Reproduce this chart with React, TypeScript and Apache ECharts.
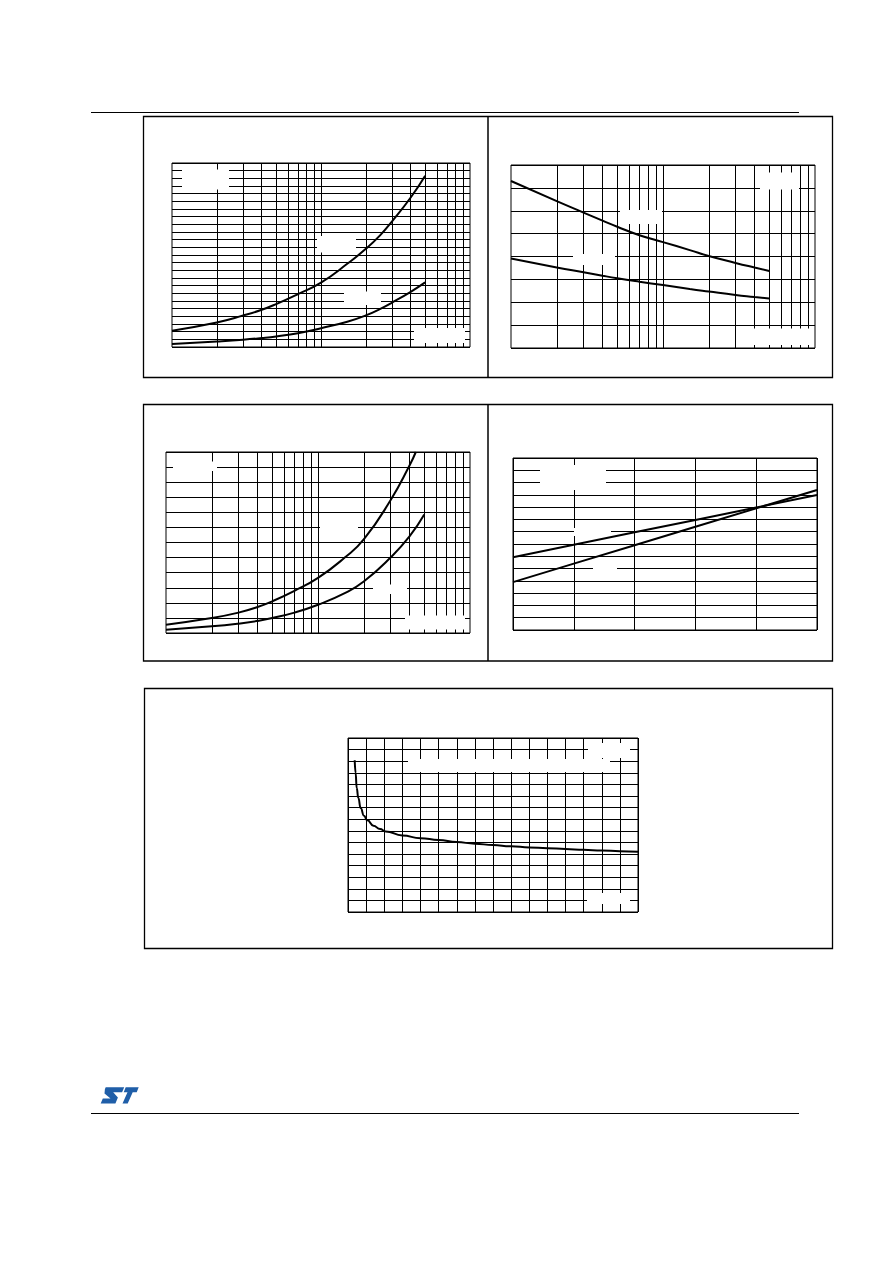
import React, { useEffect, useRef } from "react";
import * as echarts from "echarts";

// ---- Data ----
// Chart 1 (top-left): log x axis 1..100, y 0..24
const c1X = [1, 2, 3, 4, 5, 7, 10, 15, 20, 25, 30, 40, 50];
const c1Upper = [2.13, 3.2, 4.1, 4.85, 5.6, 6.9, 8.4, 10.85, 12.8, 14.6, 16.4, 19.5, 22.35];
const c1Lower = [0.39, 0.72, 0.95, 1.17, 1.38, 1.8, 2.45, 3.3, 4.12, 4.98, 5.8, 7.2, 8.43];

// Chart 2 (top-right): log x axis 1..100, y 0..8
const c2X = [1, 2, 3, 4, 5, 7, 10, 15, 20, 30, 40, 50];
const c2Upper = [7.3, 6.42, 5.92, 5.57, 5.3, 4.93, 4.63, 4.28, 4.02, 3.72, 3.52, 3.37];
const c2Lower = [3.91, 3.52, 3.31, 3.16, 3.05, 2.9, 2.75, 2.58, 2.47, 2.32, 2.23, 2.16];

// Chart 3 (middle-left): log x axis 1..100, y 0..12
const c3XUpper = [1, 2, 3, 4, 5, 7, 10, 15, 20, 30, 40, 44];
const c3Upper = [0.55, 0.99, 1.35, 1.72, 2.1, 2.8, 3.65, 5.0, 6.2, 8.8, 11.1, 12.0];
const c3XLower = [1, 2, 3, 4, 5, 7, 10, 15, 20, 30, 40, 50];
const c3Lower = [0.22, 0.44, 0.62, 0.8, 0.99, 1.35, 1.87, 2.64, 3.41, 5.0, 6.4, 7.85];

// Chart 4 (middle-right): linear x 0..5, y 0..14
const c4X = [0, 1, 2, 3, 4, 5];
const c4A = [5.93, 6.94, 7.95, 8.96, 9.97, 10.98];
const c4B = [3.9, 5.4, 6.9, 8.4, 9.9, 11.4];

// Chart 5 (bottom): linear x 0..16, y 0..15
const c5X = [0.37, 0.42, 0.48, 0.57, 0.7, 0.88, 1.07, 1.4, 1.77, 2.08, 3, 4, 5, 6, 7, 8, 9, 10, 11, 12, 13, 14, 15, 16];
const c5Y = [13.08, 11.99, 10.69, 9.83, 8.96, 8.3, 7.9, 7.44, 7.15, 6.95, 6.6, 6.36, 6.21, 6.03, 5.89, 5.77, 5.66, 5.57, 5.5, 5.43, 5.36, 5.3, 5.24, 5.19];

// Log grid lines (minor + decade)
const logGridValues = [2, 3, 4, 5, 6, 7, 8, 9, 10, 20, 30, 40, 50, 60, 70, 80, 90];

const zip = (xs: number[], ys: number[]) => xs.map((x, i) => [x, ys[i]]);

const BLACK = "#000";

const grids = [
  { left: 172, top: 163, width: 298, height: 184 },
  { left: 511, top: 165, width: 304, height: 183 },
  { left: 166, top: 452, width: 304, height: 181 },
  { left: 513, top: 458, width: 304, height: 172 },
  { left: 348, top: 738, width: 290, height: 174 },
];

const yMax = [24, 8, 12, 14, 15];

function logXAxis(idx: number) {
  return {
    type: "log",
    logBase: 10,
    gridIndex: idx,
    min: 1,
    max: 100,
    axisLabel: { show: false },
    axisTick: { show: false },
    axisLine: { show: false },
    splitLine: { show: false },
  };
}

function linXAxis(idx: number, max: number) {
  return {
    type: "value",
    gridIndex: idx,
    min: 0,
    max,
    interval: 1,
    axisLabel: { show: false },
    axisTick: { show: false },
    axisLine: { show: false },
    splitLine: { show: true, lineStyle: { color: BLACK, width: 1 } },
  };
}

function yAxis(idx: number) {
  return {
    type: "value",
    gridIndex: idx,
    min: 0,
    max: yMax[idx],
    interval: 1,
    axisLabel: { show: false },
    axisTick: { show: false },
    axisLine: { show: false },
    splitLine: { show: true, lineStyle: { color: BLACK, width: 1 } },
  };
}

function logGridSeries(idx: number) {
  return {
    type: "line",
    xAxisIndex: idx,
    yAxisIndex: idx,
    data: [],
    z: 1,
    silent: true,
    markLine: {
      z: 1,
      silent: true,
      animation: false,
      symbol: ["none", "none"],
      label: { show: false },
      emphasis: { disabled: true },
      lineStyle: { color: BLACK, width: 1, type: "solid" },
      data: logGridValues.map((v) => ({ xAxis: v })),
    },
  };
}

function curve(idx: number, data: number[][], smooth: boolean | number = true, smoothMonotone?: string) {
  return {
    type: "line",
    xAxisIndex: idx,
    yAxisIndex: idx,
    data,
    z: 10,
    smooth,
    smoothMonotone,
    showSymbol: false,
    symbol: "none",
    silent: true,
    lineStyle: { color: BLACK, width: 2 },
  };
}

// White label-cover boxes (text areas of the original, blank here)
const whiteBoxes = [
  [182, 169.5, 47, 20],
  [317, 236, 39, 16.5],
  [344, 291.5, 37, 13.5],
  [414, 328, 51, 15],
  [760, 172.5, 39, 17],
  [620, 210, 42, 14],
  [573, 254, 42, 11],
  [738, 328.5, 75, 16.5],
  [173, 461.5, 44, 9.5],
  [320, 523, 38, 10],
  [373, 584.5, 34, 9.5],
  [405, 615.5, 60, 14],
  [540, 465, 66, 25],
  [574, 528, 37, 8],
  [593, 566, 24, 8],
  [588, 743, 42, 15],
  [408, 759, 202, 13],
  [587, 893, 43, 11],
];

const LOGO_BLUE = "#1f5ea8";
const logoS = [
  [5, 0], [23.5, 0], [21.4, 5], [12.5, 5], [17.2, 10.2], [14.7, 16.3], [0, 16.3],
  [2.1, 11.3], [9.8, 11.3], [3.8, 6.2], [4.2, 2],
];
const logoT = [
  [25, 0], [38, 0], [36, 5], [32, 5], [27, 16.3], [21.8, 16.3], [26.8, 5], [23, 5],
];

export default function App() {
  const ref = useRef<HTMLDivElement>(null);

  useEffect(() => {
    if (!ref.current) return;
    const chart = echarts.init(ref.current, null, { renderer: "svg" });

    const graphics: any[] = [];
    // header and footer rules
    graphics.push({ type: "line", z: 0, shape: { x1: 91, y1: 112.5, x2: 799, y2: 112.5 }, style: { stroke: BLACK, lineWidth: 1 } });
    graphics.push({ type: "line", z: 0, shape: { x1: 91, y1: 1113.5, x2: 799, y2: 1113.5 }, style: { stroke: BLACK, lineWidth: 1 } });
    // panel frames
    const frames = [
      [143.5, 116.5, 689, 261],
      [143.5, 404.5, 689, 256.5],
      [144.5, 688.5, 688, 260],
    ];
    frames.forEach(([x, y, w, h]) => {
      graphics.push({ type: "rect", z: 0, shape: { x, y, width: w, height: h }, style: { fill: "none", stroke: BLACK, lineWidth: 1.3 } });
    });
    graphics.push({ type: "line", z: 0, shape: { x1: 488, y1: 116.5, x2: 488, y2: 377.5 }, style: { stroke: BLACK, lineWidth: 1.5 } });
    graphics.push({ type: "line", z: 0, shape: { x1: 488, y1: 404.5, x2: 488, y2: 661 }, style: { stroke: BLACK, lineWidth: 1.5 } });
    // white label covers
    whiteBoxes.forEach(([x, y, w, h]) => {
      graphics.push({ type: "rect", z: 3, silent: true, shape: { x, y, width: w, height: h }, style: { fill: "#fff", stroke: "none" } });
    });
    // ST logo
    const ox = 100.7;
    const oy = 1087.2;
    [logoS, logoT].forEach((pts) => {
      graphics.push({
        type: "polygon",
        z: 0,
        shape: { points: pts.map(([px, py]) => [ox + px, oy + py]) },
        style: { fill: LOGO_BLUE, stroke: "none" },
      });
    });

    const option: any = {
      animation: false,
      backgroundColor: "#fff",
      grid: grids.map((g) => ({ ...g, show: true, borderColor: BLACK, borderWidth: 1, backgroundColor: "transparent", containLabel: false })),
      xAxis: [logXAxis(0), logXAxis(1), logXAxis(2), linXAxis(3, 5), linXAxis(4, 16)],
      yAxis: [yAxis(0), yAxis(1), yAxis(2), yAxis(3), yAxis(4)],
      series: [
        logGridSeries(0),
        logGridSeries(1),
        logGridSeries(2),
        curve(0, zip(c1X, c1Upper)),
        curve(0, zip(c1X, c1Lower)),
        curve(1, zip(c2X, c2Upper)),
        curve(1, zip(c2X, c2Lower)),
        curve(2, zip(c3XUpper, c3Upper)),
        curve(2, zip(c3XLower, c3Lower)),
        curve(3, zip(c4X, c4A), false),
        curve(3, zip(c4X, c4B), false),
        curve(4, zip(c5X, c5Y), true, "x"),
      ],
      graphic: { elements: graphics },
    };

    chart.setOption(option);
    return () => chart.dispose();
  }, []);

  return (
    <div
      ref={ref}
      style={{ position: "absolute", left: 0, top: 0, width: 892, height: 1261, background: "#fff" }}
    />
  );
}
